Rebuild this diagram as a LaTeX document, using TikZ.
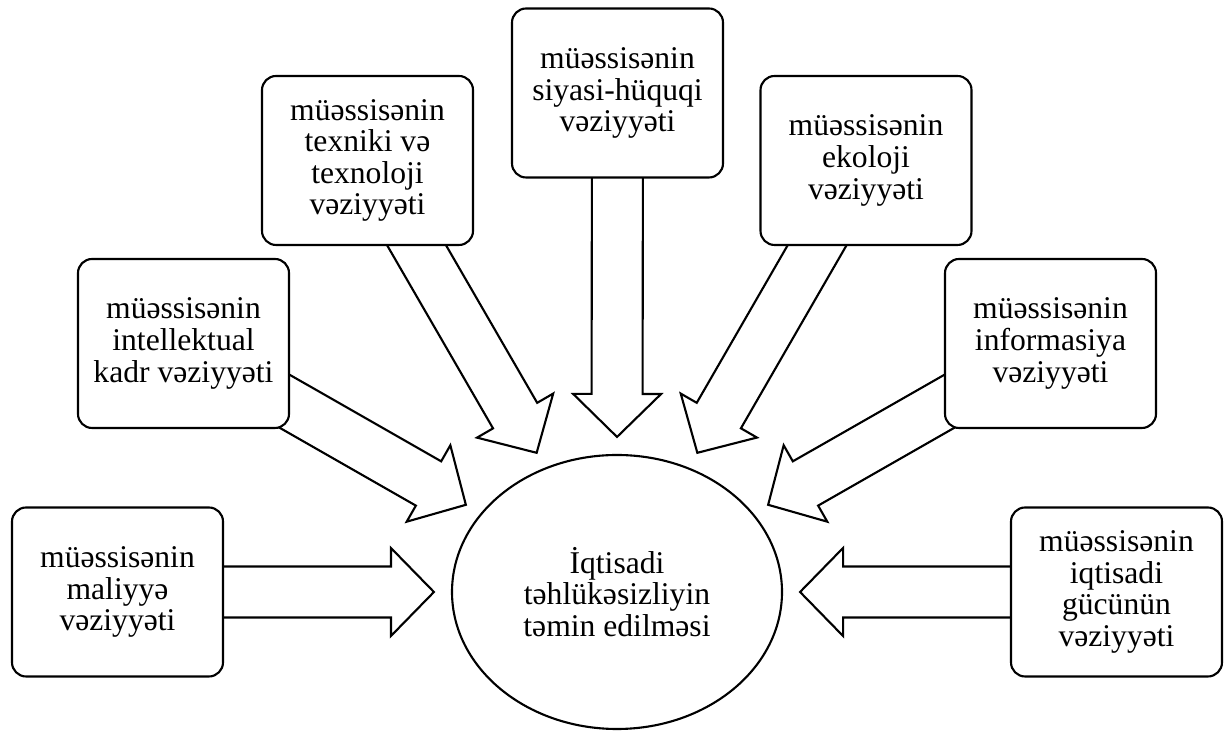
\documentclass[tikz,border=0pt]{standalone}
\usepackage{fontspec}
\setmainfont{Liberation Serif}
\usetikzlibrary{shapes.geometric, arrows.meta, positioning, calc, backgrounds}

\begin{document}
\begin{tikzpicture}
    \tikzstyle{every node} = [font=\fontsize{18}{18}\selectfont]
    \tikzstyle{block} = [draw, rectangle, fill=white, line width=1.2pt, rounded corners=8pt, minimum width=4.22cm, minimum height=3.38cm, align=center]
    \tikzstyle{goal} = [draw, ellipse, fill=white, line width=1.2pt, minimum width=6.6cm, minimum height=5.48cm, align=center]
    \tikzstyle{fat arrow} = [draw, fill=white, line width=1.2pt, line join=miter]
    \useasboundingbox (0,0) rectangle (24.54,14.62);

    % place nodes
    \node[goal](security) at (12.34,2.78){İqtisadi\\təhlükəsizliyin\\təmin edilməsi};
    \node[block](finance) at (2.35,2.78){müəssisənin\\maliyyə\\vəziyyəti};
    \node[block](staff) at (3.67,7.75){müəssisənin\\intellektual\\kadr vəziyyəti};
    \node[block](technic) at (7.35,11.41){müəssisənin\\texniki və\\texnoloji\\vəziyyəti};
    \node[block](legal) at (12.35,12.76){müəssisənin\\siyasi-hüquqi\\vəziyyəti};
    \node[block](ecology) at (17.32,11.41){müəssisənin\\ekoloji\\vəziyyəti};
    \node[block](inform) at (21.01,7.75){müəssisənin\\informasiya\\vəziyyəti};
    \node[block](power) at (22.33,2.78){müəssisənin\\iqtisadi\\gücünün\\vəziyyəti};

    % Connections
    \begin{scope}[on background layer]
    \foreach \src/\ang in {finance/180, staff/150, technic/120, legal/90, ecology/60, inform/30, power/0}{
        \coordinate (\src-tip) at ($(security.\ang)!0.34cm!(\src.center)$);
        \coordinate (\src-base) at ($(\src-tip)!0.86cm!(\src.center)$);
        \draw[fat arrow]
        ($(\src.center)!0.51cm!90:(\src-tip)$) -- ($(\src-base)!0.51cm!90:(\src-tip)$)
        -- ($(\src-base)!0.88cm!90:(\src-tip)$) -- (\src-tip)
        -- ($(\src-base)!0.88cm!-90:(\src-tip)$) -- ($(\src-base)!0.51cm!-90:(\src-tip)$)
        -- ($(\src.center)!0.51cm!-90:(\src-tip)$) -- cycle;
    }
    \end{scope}
\end{tikzpicture}
\end{document}
